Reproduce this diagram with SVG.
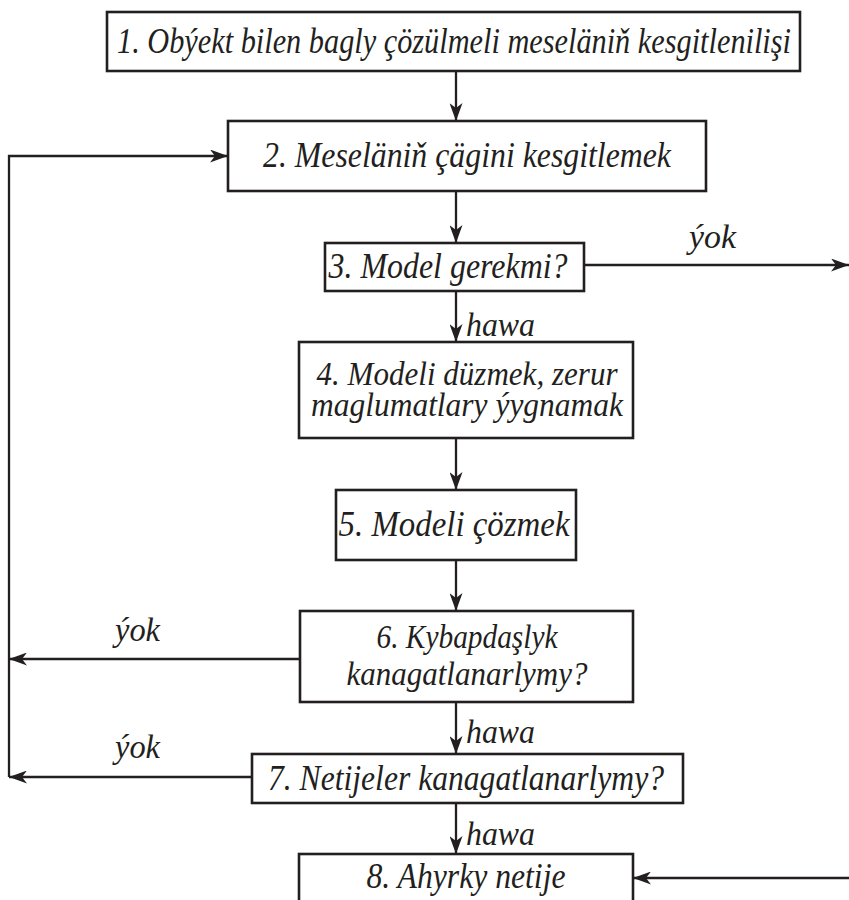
<svg xmlns="http://www.w3.org/2000/svg" width="849" height="900" viewBox="0 0 849 900">
<style>
  .box { fill: #ffffff; stroke: #231f20; stroke-width: 2.6; }
  .t { font-family: "Liberation Serif", "Times New Roman", "Tinos", serif; font-style: italic; font-size: 36px; fill: #231f20; text-anchor: middle; }
  .t2 { font-size: 34px; }
  .lbl { font-family: "Liberation Serif", "Times New Roman", "Tinos", serif; font-style: italic; font-size: 33px; fill: #231f20; text-anchor: start; }
  .ca { fill: none; stroke: #231f20; stroke-width: 2.3; marker-end: url(#ah); }
</style>
<defs>
  <marker id="ah" markerUnits="userSpaceOnUse" markerWidth="18" markerHeight="13" refX="18" refY="6.5" orient="auto" viewBox="0 0 18 13">
    <path d="M0,0 L18,6.5 L0,13 L5,6.5 Z" fill="#231f20"/>
  </marker>
</defs>
<rect width="849" height="900" fill="#ffffff"/>

<g id="connectors">
  <path class="ca" d="M456,71 L456,121"/>
  <path class="ca" d="M456,191 L456,243"/>
  <path class="ca" d="M584,265 L849,265"/>
  <path class="ca" d="M456,291 L456,342"/>
  <path class="ca" d="M456,438 L456,490"/>
  <path class="ca" d="M456,560 L456,611"/>
  <path class="ca" d="M300,659 L9,659"/>
  <path class="ca" d="M456,702 L456,754"/>
  <path class="ca" d="M252,777 L9,777"/>
  <path class="ca" d="M9,777 L9,156 L228,156"/>
  <path class="ca" d="M456,803 L456,854"/>
  <path class="ca" d="M849,878 L633,878"/>
  <text class="lbl" x="689" y="248" textLength="47" lengthAdjust="spacingAndGlyphs">ýok</text>
  <text class="lbl" x="466" y="336" textLength="69" lengthAdjust="spacingAndGlyphs">hawa</text>
  <text class="lbl" x="115" y="641" textLength="45" lengthAdjust="spacingAndGlyphs">ýok</text>
  <text class="lbl" x="466" y="743" textLength="69" lengthAdjust="spacingAndGlyphs">hawa</text>
  <text class="lbl" x="115" y="758" textLength="45" lengthAdjust="spacingAndGlyphs">ýok</text>
  <text class="lbl" x="466" y="845" textLength="69" lengthAdjust="spacingAndGlyphs">hawa</text>
</g>

<g id="n1">
  <rect class="box" x="107" y="12" width="693" height="59"/>
  <text class="t" x="454" y="53" textLength="674" lengthAdjust="spacingAndGlyphs">1. Obýekt bilen bagly çözülmeli meseläniň kesgitlenilişi</text>
</g>
<g id="n2">
  <rect class="box" x="228" y="121" width="478" height="70"/>
  <text class="t" x="467" y="167" textLength="408" lengthAdjust="spacingAndGlyphs">2. Meseläniň çägini kesgitlemek</text>
</g>
<g id="n3">
  <rect class="box" x="325" y="243" width="259" height="48"/>
  <text class="t" x="448" y="278" textLength="239" lengthAdjust="spacingAndGlyphs">3. Model gerekmi?</text>
</g>
<g id="n4">
  <rect class="box" x="299" y="342" width="334" height="96"/>
  <text class="t t2" x="467" y="385" textLength="301" lengthAdjust="spacingAndGlyphs">4. Modeli düzmek, zerur</text>
  <text class="t t2" x="467" y="416" textLength="312" lengthAdjust="spacingAndGlyphs">maglumatlary ýygnamak</text>
</g>
<g id="n5">
  <rect class="box" x="336" y="490" width="240" height="70"/>
  <text class="t" x="454" y="536" textLength="231" lengthAdjust="spacingAndGlyphs">5. Modeli çözmek</text>
</g>
<g id="n6">
  <rect class="box" x="300" y="611" width="333" height="91"/>
  <text class="t t2" x="467" y="648" textLength="181" lengthAdjust="spacingAndGlyphs">6. Kybapdaşlyk</text>
  <text class="t t2" x="467" y="685" textLength="241" lengthAdjust="spacingAndGlyphs">kanagatlanarlymy?</text>
</g>
<g id="n7">
  <rect class="box" x="252" y="754" width="431" height="49"/>
  <text class="t" x="466" y="790" textLength="396" lengthAdjust="spacingAndGlyphs">7. Netijeler kanagatlanarlymy?</text>
</g>
<g id="n8">
  <rect class="box" x="299" y="854" width="334" height="70"/>
  <text class="t" x="466" y="888" textLength="199" lengthAdjust="spacingAndGlyphs">8. Ahyrky netije</text>
</g>
</svg>
